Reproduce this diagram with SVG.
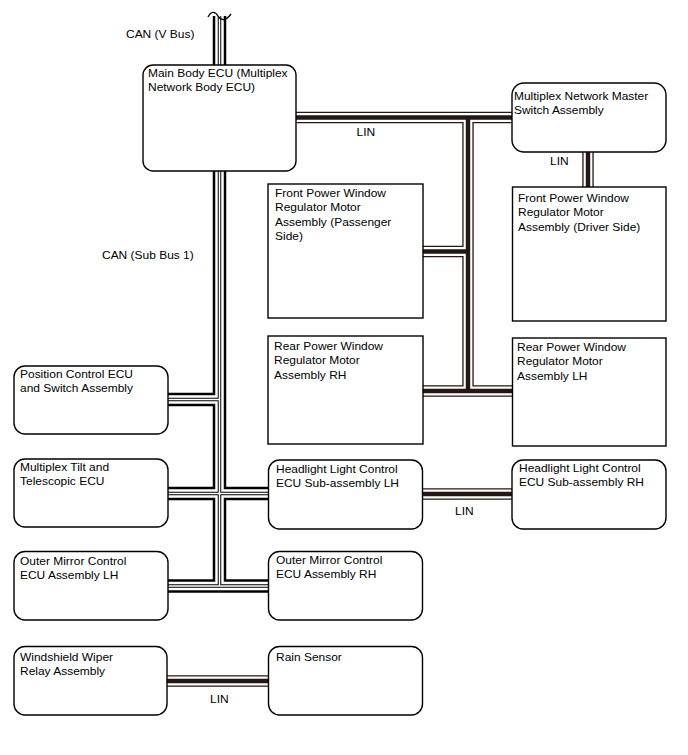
<svg xmlns="http://www.w3.org/2000/svg" xmlns:xlink="http://www.w3.org/1999/xlink" width="688" height="755" viewBox="0 0 688 755">
<style>
.bx{fill:#fff;stroke:#000;stroke-width:1.4}
.t{font-family:"Liberation Sans",Arial,Helvetica,sans-serif;font-size:10.5px;fill:#000}
.c1{fill:none;stroke:#000;stroke-width:13.5}
.c2{fill:none;stroke:#fff;stroke-width:8.5}
.c3{fill:none;stroke:#000;stroke-width:3.5}
.c4{fill:none;stroke:#fff;stroke-width:1.5}
.l1{fill:none;stroke:#231815;stroke-width:11.4}
.l2{fill:none;stroke:#fff;stroke-width:8.8}
.l3{fill:none;stroke:#231815;stroke-width:4.4}
</style>
<defs>
<path id="can" d="M219.5,16 V66 M219.5,170 V586 M167,399.5 H219.5 M167,493.5 H269 M167,586 H269"/>
<path id="lin" d="M295,117.5 H513 M468,117.5 V391 M422,391 H513 M422,251.5 H468 M588,151 V188 M422,494 H513 M167,681 H269"/>
</defs>
<rect width="688" height="755" fill="#fff"/>
<g id="connectors">
<use xlink:href="#can" class="c1"/>
<use xlink:href="#can" class="c2"/>
<use xlink:href="#can" class="c3"/>
<use xlink:href="#can" class="c4"/>
<use xlink:href="#lin" class="l1"/>
<use xlink:href="#lin" class="l2"/>
<use xlink:href="#lin" class="l3"/>
<rect x="205" y="5" width="30" height="11" fill="#fff"/>
<path d="M208,17 C211,11 215,11 218,16 C221,21 226,21 231,14" fill="none" stroke="#000" stroke-width="1.3"/>
<text class="t" transform="translate(126,37.5) scale(1.14,1)">CAN (V Bus)</text>
<text class="t" transform="translate(102,259) scale(1.14,1)">CAN (Sub Bus 1)</text>
<text class="t" transform="translate(356.5,135.5) scale(1.14,1)">LIN</text>
<text class="t" transform="translate(550,165) scale(1.14,1)">LIN</text>
<text class="t" transform="translate(455,514.5) scale(1.14,1)">LIN</text>
<text class="t" transform="translate(210,702.5) scale(1.14,1)">LIN</text>
</g>
<g id="main-body-ecu">
<rect class="bx" x="143" y="65" width="153" height="106" rx="10"/>
<text class="t" transform="translate(148,76.5) scale(1.14,1)"><tspan x="0">Main Body ECU (Multiplex</tspan><tspan x="0" dy="14.5">Network Body ECU)</tspan></text>
</g>
<g id="master-switch">
<rect class="bx" x="512" y="83" width="154" height="69" rx="12"/>
<text class="t" transform="translate(514,100) scale(1.14,1)"><tspan x="0">Multiplex Network Master</tspan><tspan x="0" dy="14">Switch Assembly</tspan></text>
</g>
<g id="fpw-passenger">
<rect class="bx" x="268" y="184" width="155" height="134"/>
<text class="t" transform="translate(275,197) scale(1.14,1)"><tspan x="0">Front Power Window</tspan><tspan x="0" dy="14.3">Regulator Motor</tspan><tspan x="0" dy="14.3">Assembly (Passenger</tspan><tspan x="0" dy="14.3">Side)</tspan></text>
</g>
<g id="fpw-driver">
<rect class="bx" x="512.5" y="187" width="153.5" height="134"/>
<text class="t" transform="translate(518,202) scale(1.14,1)"><tspan x="0">Front Power Window</tspan><tspan x="0" dy="14.3">Regulator Motor</tspan><tspan x="0" dy="14.3">Assembly (Driver Side)</tspan></text>
</g>
<g id="rpw-rh">
<rect class="bx" x="268" y="336" width="155" height="108"/>
<text class="t" transform="translate(274,350) scale(1.14,1)"><tspan x="0">Rear Power Window</tspan><tspan x="0" dy="14.3">Regulator Motor</tspan><tspan x="0" dy="14.3">Assembly RH</tspan></text>
</g>
<g id="rpw-lh">
<rect class="bx" x="512.5" y="338" width="153.5" height="108"/>
<text class="t" transform="translate(517,351) scale(1.14,1)"><tspan x="0">Rear Power Window</tspan><tspan x="0" dy="14.3">Regulator Motor</tspan><tspan x="0" dy="14.3">Assembly LH</tspan></text>
</g>
<g id="position-control">
<rect class="bx" x="14" y="366" width="154" height="68" rx="11"/>
<text class="t" transform="translate(20,378) scale(1.14,1)"><tspan x="0">Position Control ECU</tspan><tspan x="0" dy="14.5">and Switch Assembly</tspan></text>
</g>
<g id="tilt-telescopic">
<rect class="bx" x="14" y="459" width="154" height="68" rx="11"/>
<text class="t" transform="translate(20,471) scale(1.14,1)"><tspan x="0">Multiplex Tilt and</tspan><tspan x="0" dy="14.5">Telescopic ECU</tspan></text>
</g>
<g id="headlight-lh">
<rect class="bx" x="268.5" y="460" width="154" height="69" rx="11"/>
<text class="t" transform="translate(276,473) scale(1.14,1)"><tspan x="0">Headlight Light Control</tspan><tspan x="0" dy="14.5">ECU Sub-assembly LH</tspan></text>
</g>
<g id="headlight-rh">
<rect class="bx" x="512" y="460" width="154" height="69" rx="11"/>
<text class="t" transform="translate(519,472) scale(1.14,1)"><tspan x="0">Headlight Light Control</tspan><tspan x="0" dy="14.5">ECU Sub-assembly RH</tspan></text>
</g>
<g id="outer-mirror-lh">
<rect class="bx" x="14" y="551.5" width="154" height="68.5" rx="11"/>
<text class="t" transform="translate(20,565) scale(1.14,1)"><tspan x="0">Outer Mirror Control</tspan><tspan x="0" dy="14.5">ECU Assembly LH</tspan></text>
</g>
<g id="outer-mirror-rh">
<rect class="bx" x="268.5" y="551.5" width="154" height="68.5" rx="11"/>
<text class="t" transform="translate(276,564) scale(1.14,1)"><tspan x="0">Outer Mirror Control</tspan><tspan x="0" dy="14.5">ECU Assembly RH</tspan></text>
</g>
<g id="wiper-relay">
<rect class="bx" x="14" y="646.5" width="153" height="68.5" rx="11"/>
<text class="t" transform="translate(20,661) scale(1.14,1)"><tspan x="0">Windshield Wiper</tspan><tspan x="0" dy="14.5">Relay Assembly</tspan></text>
</g>
<g id="rain-sensor">
<rect class="bx" x="268.5" y="646.5" width="154" height="68.5" rx="11"/>
<text class="t" transform="translate(276,661) scale(1.14,1)">Rain Sensor</text>
</g>
</svg>
